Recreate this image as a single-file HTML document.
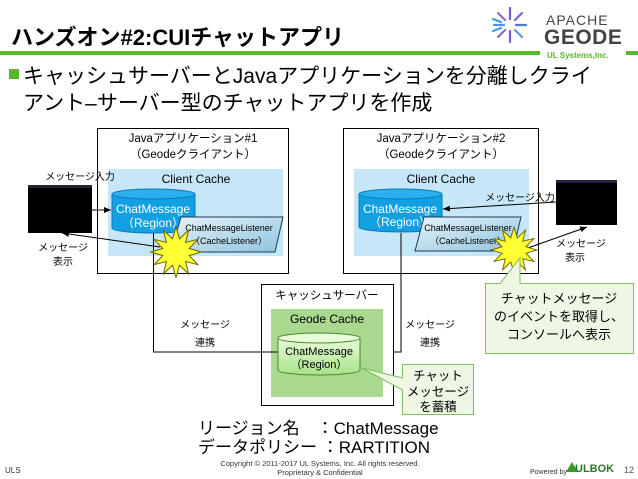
<!DOCTYPE html>
<html><head><meta charset="utf-8"><style>
html,body{margin:0;padding:0;background:#fff;}
svg{display:block;font-family:"Liberation Sans","Noto Sans CJK JP",sans-serif;}
</style></head><body>
<svg width="638" height="479" viewBox="0 0 638 479" xmlns="http://www.w3.org/2000/svg">
<defs>
<linearGradient id="lb" x1="0" y1="0" x2="1" y2="1"><stop offset="0" stop-color="#e6f3fa"/><stop offset="1" stop-color="#8fc3df"/></linearGradient>
<linearGradient id="gc" x1="0" y1="0" x2="0" y2="1"><stop offset="0" stop-color="#e9fbd9"/><stop offset="1" stop-color="#a6e38a"/></linearGradient>
<polygon id="star" points="24,0 12.6,3.4 20.8,12 9.2,9.2 12,20.8 3.4,12.6 0,24 -3.4,12.6 -12,20.8 -9.2,9.2 -20.8,12 -12.6,3.4 -24,0 -12.6,-3.4 -20.8,-12 -9.2,-9.2 -12,-20.8 -3.4,-12.6 0,-24 3.4,-12.6 12,-20.8 9.2,-9.2 20.8,-12 12.6,-3.4" fill="#ffff33" stroke="#6b6b00" stroke-width="1"/>
<marker id="ar" markerWidth="8" markerHeight="8" refX="7" refY="4" orient="auto" markerUnits="userSpaceOnUse"><path d="M0,1 L7,4 L0,7 z" fill="#000"/></marker>
</defs>
<text x="11" y="45" font-size="22" font-weight="bold" fill="#000">ハンズオン#2:CUIチャットアプリ</text>
<g transform="translate(510,25)" stroke-width="2.2" stroke-linecap="round">
<line x1="6" y1="0" x2="16" y2="0" stroke="#4a7fd0"/><line x1="-6" y1="0" x2="-16" y2="0" stroke="#5a8fe0"/>
<line x1="0" y1="-6" x2="0" y2="-17" stroke="#7a5ad0"/><line x1="0" y1="6" x2="0" y2="17" stroke="#7a5ad0"/>
<line x1="5" y1="-5" x2="12" y2="-12" stroke="#6a6ae0"/><line x1="-5" y1="-5" x2="-12" y2="-12" stroke="#8a6ad0"/>
<line x1="5" y1="5" x2="12" y2="12" stroke="#5a9ae0"/><line x1="-5" y1="5" x2="-12" y2="12" stroke="#8a6ad0"/>
<line x1="-9" y1="-3" x2="-17" y2="-6" stroke="#3aa0e0"/><line x1="-9" y1="3" x2="-17" y2="6" stroke="#3aa0e0"/>
</g>
<text x="546" y="25" font-size="14" fill="#444" letter-spacing="1">APACHE</text>
<text x="544" y="44" font-size="21" font-weight="bold" fill="#444" letter-spacing="0.5">GEODE</text>
<rect x="0" y="51" width="540" height="4" fill="#58b82c"/>
<rect x="626" y="51" width="12" height="4" fill="#58b82c"/>
<text x="547" y="58" font-size="8" font-weight="bold" fill="#58b82c">UL Systems,Inc.</text>
<rect x="9" y="69" width="10" height="10" fill="#58b82c"/>
<text x="23" y="83" font-size="21" fill="#000">キャッシュサーバーとJavaアプリケーションを分離しクライ</text>
<text x="23" y="110" font-size="21" fill="#000">アント–サーバー型のチャットアプリを作成</text>
<rect x="97.5" y="128.5" width="191" height="145" fill="#fff" stroke="#000"/>
<text x="193" y="142" font-size="11.5" text-anchor="middle">Javaアプリケーション#1</text>
<text x="193" y="158" font-size="11.5" text-anchor="middle">（Geodeクライアント）</text>
<rect x="108" y="169" width="175" height="87" fill="#c6e7f8"/>
<text x="196" y="183" font-size="12" text-anchor="middle">Client Cache</text>
<path d="M112,194 v34 a41.5,5 0 0 0 83,0 v-34 z" fill="#13a0e3" stroke="#0a7ab8"/>
<ellipse cx="153.5" cy="194" rx="41.5" ry="5" fill="#2ab0ee" stroke="#0a7ab8"/>
<text x="153" y="213" font-size="12" fill="#fff" text-anchor="middle">ChatMessage</text>
<text x="153" y="227" font-size="12" fill="#fff" text-anchor="middle">（Region）</text>
<polygon points="181,217 283,217 275,252 171,252" fill="url(#lb)" stroke="#1a3a55"/>
<text x="229" y="231" font-size="9" text-anchor="middle">ChatMessageListener</text>
<text x="229" y="244" font-size="9" text-anchor="middle">（CacheListener）</text>
<rect x="28" y="185" width="64" height="48" fill="#000"/>
<rect x="28" y="185" width="64" height="3" fill="#223"/>
<text x="80" y="180" font-size="10" text-anchor="middle">メッセージ入力</text>
<text x="63" y="251" font-size="10" text-anchor="middle">メッセージ</text>
<text x="63" y="265" font-size="10" text-anchor="middle">表示</text>
<line x1="92" y1="210" x2="111" y2="210" stroke="#000" marker-end="url(#ar)"/>
<line x1="160" y1="247" x2="62" y2="233" stroke="#000" marker-end="url(#ar)"/>
<rect x="343.5" y="128.5" width="195" height="145" fill="#fff" stroke="#000"/>
<text x="441" y="142" font-size="11.5" text-anchor="middle">Javaアプリケーション#2</text>
<text x="441" y="158" font-size="11.5" text-anchor="middle">（Geodeクライアント）</text>
<rect x="354" y="169" width="175" height="87" fill="#c6e7f8"/>
<text x="441" y="183" font-size="12" text-anchor="middle">Client Cache</text>
<path d="M359,194 v33 a41.5,5 0 0 0 83,0 v-33 z" fill="#13a0e3" stroke="#0a7ab8"/>
<ellipse cx="400.5" cy="194" rx="41.5" ry="5" fill="#2ab0ee" stroke="#0a7ab8"/>
<text x="400" y="213" font-size="12" fill="#fff" text-anchor="middle">ChatMessage</text>
<text x="400" y="226" font-size="12" fill="#fff" text-anchor="middle">（Region）</text>
<polygon points="424,217 521,217 513,251 415,251" fill="url(#lb)" stroke="#1a3a55"/>
<text x="468" y="231" font-size="9" text-anchor="middle">ChatMessageListener</text>
<text x="468" y="244" font-size="9" text-anchor="middle">（CacheListener）</text>
<rect x="556" y="180" width="61" height="45" fill="#000"/>
<rect x="556" y="180" width="61" height="3" fill="#224"/>
<text x="520" y="201" font-size="10" text-anchor="middle">メッセージ入力</text>
<text x="581" y="247" font-size="10" text-anchor="middle">メッセージ</text>
<text x="575" y="261" font-size="10" text-anchor="middle">表示</text>
<line x1="556" y1="202" x2="443" y2="209" stroke="#000" marker-end="url(#ar)"/>
<line x1="525" y1="249" x2="587" y2="227" stroke="#000" marker-end="url(#ar)"/>
<polyline points="153.5,233 153.5,352 278,352" fill="none" stroke="#000"/>
<polyline points="360,352 401,352 401,233" fill="none" stroke="#000"/>
<rect x="261.5" y="284.5" width="132" height="121" fill="#fff" stroke="#000"/>
<text x="327" y="299" font-size="11.5" text-anchor="middle">キャッシュサーバー</text>
<rect x="271" y="309" width="112" height="88" fill="#a9d88f"/>
<text x="327" y="323" font-size="12" text-anchor="middle">Geode Cache</text>
<polyline points="153.5,352 278,352" fill="none" stroke="#000"/>
<path d="M278,338 v32 a41,5 0 0 0 82,0 v-32 z" fill="url(#gc)" stroke="#4a8a2a"/>
<ellipse cx="319" cy="338" rx="41" ry="5" fill="#e9fbd9" stroke="#4a8a2a"/>
<text x="319" y="355" font-size="11" text-anchor="middle">ChatMessage</text>
<text x="319" y="368" font-size="11" text-anchor="middle">（Region）</text>
<text x="205" y="328" font-size="10" text-anchor="middle">メッセージ</text>
<text x="205" y="346" font-size="10" text-anchor="middle">連携</text>
<text x="430" y="328" font-size="10" text-anchor="middle">メッセージ</text>
<text x="430" y="346" font-size="10" text-anchor="middle">連携</text>
<use href="#star" transform="translate(176,252) scale(1.05,1.05)"/>
<use href="#star" transform="translate(514,250) scale(0.95,0.95)"/>
<path d="M485.5,283.5 H500 L520,258 L520,283.5 H633.5 V353.5 H485.5 Z" fill="#eef6e4" stroke="#7fbf5f"/>
<text x="559" y="303" font-size="13" text-anchor="middle">チャットメッセージ</text>
<text x="559" y="321" font-size="13" text-anchor="middle">のイベントを取得し、</text>
<text x="559" y="339" font-size="13" text-anchor="middle">コンソールへ表示</text>
<path d="M402.5,364.5 H473.5 V414.5 H402.5 V390 L362,368 L402.5,378 Z" fill="#eef6e4" stroke="#7fbf5f"/>
<text x="438" y="380" font-size="12.5" text-anchor="middle">チャット</text>
<text x="438" y="396" font-size="12.5" text-anchor="middle">メッセージ</text>
<text x="438" y="411" font-size="12.5" text-anchor="middle">を蓄積</text>
<text x="198" y="434" font-size="17">リージョン名　：ChatMessage</text>
<text x="198" y="453" font-size="17">データポリシー ：RARTITION</text>
<text x="320" y="466" font-size="7.5" text-anchor="middle" fill="#333">Copyright © 2011-2017 UL Systems, Inc.  All rights reserved.</text>
<text x="320" y="475" font-size="7.5" text-anchor="middle" fill="#333">Proprietary &amp; Confidential</text>
<text x="5" y="473" font-size="8" fill="#333">ULS</text>
<text x="530" y="474" font-size="7" fill="#333">Powered by</text>
<polygon points="566,472 572,462 578,472" fill="#3a9a2a"/>
<text x="575" y="472" font-size="11" font-weight="bold" fill="#2a7a2a">ULBOK</text>
<text x="624" y="473" font-size="9" fill="#555">12</text>
</svg>
</body></html>
